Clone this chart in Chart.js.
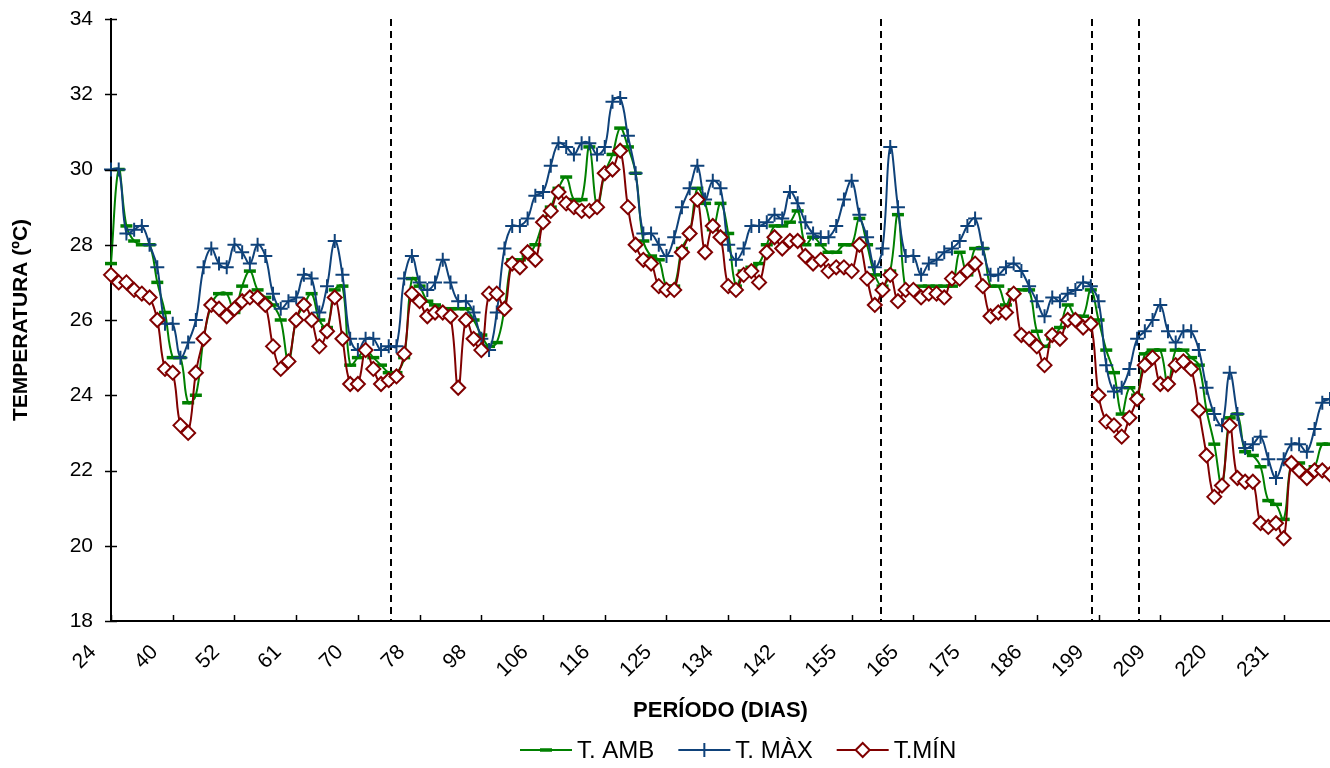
<!DOCTYPE html>
<html>
<head>
<meta charset="utf-8">
<script src="https://cdn.jsdelivr.net/npm/chart.js@4.4.1/dist/chart.umd.min.js"></script>
<style>
  html, body { margin: 0; padding: 0; background: #fff; }
  #wrap { width: 1330px; height: 768px; position: relative; }
</style>
</head>
<body>
<div id="wrap"><canvas id="tempChart"></canvas></div>
<script>
// dias mostrados no eixo X (um rótulo a cada 8 leituras)
const tickDays = [24, 40, 52, 61, 70, 78, 98, 106, 116, 125, 134, 142, 155, 165, 175, 186, 199, 209, 220, 231];
const labelEvery = 8;

// T. AMB
const tAmb = [
  27.5, 30.0, 28.5, 28.1, 28.0, 28.0, 27.0, 26.2, 25.0, 25.0,
  23.8, 24.0, 25.5, 26.4, 26.7, 26.7, 26.2, 26.9, 27.3, 26.8,
  26.6, 26.4, 26.0, 24.9, 26.0, 26.4, 26.7, 26.0, 25.8, 26.8,
  26.9, 24.8, 25.0, 25.2, 25.0, 24.8, 24.6, 24.6, 25.0, 27.1,
  26.9, 26.5, 26.4, 26.3, 26.3, 26.3, 26.3, 26.0, 25.6, 25.3,
  25.4, 26.3, 27.6, 27.6, 27.7, 28.0, 28.6, 29.0, 29.5, 29.8,
  29.2, 29.2, 30.6, 29.0, 29.9, 30.4, 31.1, 30.6, 29.9, 28.1,
  27.7, 27.6, 26.9, 26.9, 27.9, 28.3, 29.5, 29.1, 28.4, 29.1,
  28.3, 26.9, 27.3, 27.4, 27.5, 28.0, 28.5, 28.5, 28.6, 28.9,
  28.0, 28.2, 28.0, 27.8, 27.8, 28.0, 28.0, 28.7, 28.0, 27.2,
  26.9, 27.3, 28.8, 26.8, 26.8, 26.9, 26.9, 26.9, 26.9, 26.9,
  27.8, 27.2, 27.9, 27.9, 26.9, 26.9, 26.4, 26.8, 26.8, 26.8,
  25.7, 25.3, 25.5, 25.8, 26.4, 26.1, 26.1, 26.8, 26.0, 25.2,
  24.6, 23.5, 24.2, 24.0, 25.1, 25.2, 25.2, 24.3, 25.2, 25.2,
  25.0, 24.8, 23.6, 22.7, 21.6, 23.4, 23.5, 22.5, 22.4, 22.1,
  21.2, 21.1, 20.7, 22.2, 22.2, 22.0, 22.1, 22.7, 22.7
];

// T. MÀX
const tMax = [
  30.0, 30.0, 28.3, 28.4, 28.5, 28.0, 27.4, 25.9, 25.9, 25.0,
  25.4, 26.0, 27.4, 27.9, 27.5, 27.4, 28.0, 27.8, 27.5, 28.0,
  27.7, 26.7, 26.3, 26.5, 26.6, 27.2, 27.1, 26.2, 26.9, 28.1,
  27.2, 25.5, 25.2, 25.5, 25.5, 25.2, 25.3, 25.3, 27.1, 27.7,
  27.0, 26.8, 27.0, 27.6, 27.0, 26.5, 26.5, 26.2, 25.5, 25.2,
  26.2, 27.9, 28.5, 28.5, 28.7, 29.3, 29.4, 30.1, 30.7, 30.6,
  30.4, 30.7, 30.7, 30.4, 30.6, 31.8, 31.9, 30.9, 29.9, 28.3,
  28.3, 28.0, 27.7, 28.2, 29.0, 29.5, 30.1, 29.2, 29.7, 29.5,
  28.0, 27.6, 27.9, 28.5, 28.5, 28.6, 28.8, 28.7, 29.4, 29.1,
  28.6, 28.3, 28.2, 28.2, 28.5, 29.2, 29.7, 28.8, 28.2, 27.4,
  27.9, 30.6, 29.0, 27.7, 27.7, 27.2, 27.5, 27.6, 27.8, 27.9,
  28.1, 28.5, 28.7, 27.9, 27.2, 27.2, 27.4, 27.5, 27.3, 26.9,
  26.5, 26.1, 26.6, 26.5, 26.7, 26.8, 27.0, 26.9, 26.5, 24.8,
  24.1, 24.2, 24.7, 25.5, 25.7, 26.0, 26.4, 25.7, 25.4, 25.7,
  25.7, 25.2, 24.2, 23.5, 23.2, 24.6, 23.5, 22.6, 22.7, 22.9,
  22.3, 21.8, 22.3, 22.7, 22.7, 22.5, 23.1, 23.8, 23.9
];

// T.MÍN
const tMin = [
  27.2, 27.0, 27.0, 26.8, 26.7, 26.6, 26.0, 24.7, 24.6, 23.2,
  23.0, 24.6, 25.5, 26.4, 26.3, 26.1, 26.3, 26.5, 26.6, 26.6,
  26.4, 25.3, 24.7, 24.9, 26.0, 26.4, 26.0, 25.3, 25.7, 26.6,
  25.5, 24.3, 24.3, 25.2, 24.7, 24.3, 24.4, 24.5, 25.1, 26.7,
  26.5, 26.1, 26.2, 26.2, 26.1, 24.2, 26.0, 25.5, 25.2, 26.7,
  26.7, 26.3, 27.5, 27.4, 27.8, 27.6, 28.6, 28.9, 29.4, 29.1,
  29.0, 28.9, 28.9, 29.0, 29.9, 30.0, 30.5, 29.0, 28.0, 27.6,
  27.5, 26.9, 26.8, 26.8, 27.8, 28.3, 29.2, 27.8, 28.5, 28.2,
  26.9, 26.8, 27.2, 27.3, 27.0, 27.8, 28.2, 27.9, 28.1, 28.1,
  27.7, 27.5, 27.6, 27.3, 27.4, 27.4, 27.3, 28.0, 27.1, 26.4,
  26.8, 27.2, 26.5, 26.8, 26.8, 26.6, 26.7, 26.7, 26.6, 27.1,
  27.1, 27.3, 27.5, 26.9, 26.1, 26.2, 26.2, 26.7, 25.6, 25.5,
  25.3, 24.8, 25.6, 25.5, 26.0, 26.0, 25.8, 25.9, 24.0, 23.3,
  23.2, 22.9, 23.4, 23.9, 24.8, 25.0, 24.3, 24.3, 24.8, 24.9,
  24.7, 23.6, 22.4, 21.3, 21.6, 23.2, 21.8, 21.7, 21.7, 20.6,
  20.5, 20.6, 20.2, 22.2, 22.0, 21.8, 22.0, 22.0, 21.9
];

// linhas tracejadas verticais (posição em número de leituras)
const phaseMarks = [36.3, 99.8, 127.2, 133.2];

const FONT = "'Liberation Sans', Arial, sans-serif";
const GREEN = '#008000';
const BLUE = '#0f427a';
const RED = '#800000';

const categories = tAmb.map((_, i) => i % labelEvery === 0 ? String(tickDays[i / labelEvery]) : '');

function drawMarker(ctx, kind, x, y, color) {
  ctx.save();
  ctx.strokeStyle = color;
  ctx.beginPath();
  if (kind === 'line') {
    ctx.lineWidth = 3.5;
    ctx.moveTo(x - 6, y); ctx.lineTo(x + 6, y);
    ctx.stroke();
  } else if (kind === 'cross') {
    ctx.lineWidth = 2;
    ctx.moveTo(x - 7, y); ctx.lineTo(x + 7, y);
    ctx.moveTo(x, y - 7); ctx.lineTo(x, y + 7);
    ctx.stroke();
  } else {
    ctx.lineWidth = 2;
    ctx.fillStyle = '#fff';
    ctx.moveTo(x - 7, y); ctx.lineTo(x, y - 7); ctx.lineTo(x + 7, y); ctx.lineTo(x, y + 7);
    ctx.closePath();
    ctx.fill(); ctx.stroke();
  }
  ctx.restore();
}

const decor = {
  id: 'decor',
  beforeDatasetsDraw(chart) {
    const { ctx, chartArea: a, scales: { x } } = chart;
    ctx.save();
    ctx.strokeStyle = '#000';
    ctx.lineWidth = 2;
    ctx.setLineDash([7, 5]);
    phaseMarks.forEach(v => {
      const px = Math.round(x.getPixelForValue(v));
      ctx.beginPath();
      ctx.moveTo(px, a.top);
      ctx.lineTo(px, a.bottom);
      ctx.stroke();
    });
    ctx.restore();
  },
  afterDraw(chart) {
    const { ctx, chartArea: a, scales: { x, y } } = chart;
    ctx.save();
    ctx.strokeStyle = '#000';
    ctx.lineWidth = 1.5;
    // marcas do eixo X (para dentro)
    for (let i = 0; i < categories.length; i += labelEvery) {
      const px = Math.round(x.getPixelForValue(i)) + 0.5;
      ctx.beginPath(); ctx.moveTo(px, a.bottom); ctx.lineTo(px, a.bottom - 6); ctx.stroke();
    }
    // marcas do eixo Y (cruzando)
    y.ticks.forEach(t => {
      const py = Math.round(y.getPixelForValue(t.value)) + 0.5;
      ctx.beginPath(); ctx.moveTo(a.left - 6, py); ctx.lineTo(a.left + 6, py); ctx.stroke();
    });
    ctx.restore();

    // legenda
    const items = [
      { ds: 0, kind: 'line' },
      { ds: 1, kind: 'cross' },
      { ds: 2, kind: 'rectRot' }
    ];
    ctx.save();
    ctx.font = '24px ' + FONT;
    ctx.textBaseline = 'middle';
    let lx = 520;
    const ly = 750;
    items.forEach(it => {
      const ds = chart.data.datasets[it.ds];
      ctx.strokeStyle = ds.borderColor;
      ctx.lineWidth = 2;
      ctx.beginPath(); ctx.moveTo(lx, ly); ctx.lineTo(lx + 52, ly); ctx.stroke();
      drawMarker(ctx, it.kind, lx + 26, ly, ds.borderColor);
      ctx.fillStyle = '#000';
      ctx.fillText(ds.label, lx + 57, ly + 1);
      lx += 57 + ctx.measureText(ds.label).width + 24;
    });
    ctx.restore();
  }
};

new Chart(document.getElementById('tempChart'), {
  type: 'line',
  data: {
    labels: categories,
    datasets: [
      {
        label: 'T. AMB',
        data: tAmb,
        borderColor: GREEN,
        borderWidth: 2,
        pointStyle: 'line',
        pointRadius: 6,
        pointBorderWidth: 3.5,
        pointBorderColor: GREEN,
        pointBackgroundColor: GREEN,
        order: 3
      },
      {
        label: 'T. MÀX',
        data: tMax,
        borderColor: BLUE,
        borderWidth: 2,
        pointStyle: 'cross',
        pointRadius: 7,
        pointBorderWidth: 2,
        pointBorderColor: BLUE,
        order: 2
      },
      {
        label: 'T.MÍN',
        data: tMin,
        borderColor: RED,
        borderWidth: 2,
        pointStyle: 'rectRot',
        pointRadius: 7,
        pointBorderWidth: 2,
        pointBorderColor: RED,
        pointBackgroundColor: '#fff',
        order: 1
      }
    ]
  },
  options: {
    responsive: true,
    maintainAspectRatio: false,
    animation: false,
    devicePixelRatio: 1,
    layout: { autoPadding: false, padding: { top: 19, right: 0, bottom: 0, left: 0 } },
    elements: { line: { tension: 0.4 } },
    datasets: { line: { clip: false } },
    plugins: { legend: { display: false }, tooltip: { enabled: false } },
    events: [],
    scales: {
      x: {
        type: 'category',
        offset: false,
        grid: { display: false, drawTicks: false },
        border: { display: true, color: '#000', width: 2 },
        ticks: {
          autoSkip: false,
          maxRotation: 45,
          minRotation: 45,
          padding: 19,
          labelOffset: -18,
          color: '#000',
          font: { family: FONT, size: 21 },
          callback: (v, i) => categories[i]
        },
        title: {
          display: true,
          text: 'PERÍODO (DIAS)',
          color: '#000',
          font: { family: FONT, size: 22, weight: 'bold' },
          padding: { top: 0, bottom: 44 }
        },
        afterFit: s => { s.height = 147; s.paddingLeft = 0; s.paddingRight = 0; }
      },
      y: {
        min: 18,
        max: 34,
        grid: { display: false, drawTicks: false },
        border: { display: true, color: '#000', width: 2 },
        ticks: { stepSize: 2, padding: 18, color: '#000', font: { family: FONT, size: 21 } },
        title: {
          display: true,
          text: 'TEMPERATURA (ºC)',
          color: '#000',
          font: { family: FONT, size: 21, weight: 'bold' },
          padding: { top: 9, bottom: 0 }
        },
        afterFit: s => { s.width = 111; s.paddingTop = 0; s.paddingBottom = 0; }
      }
    }
  },
  plugins: [decor]
});
</script>
</body>
</html>
